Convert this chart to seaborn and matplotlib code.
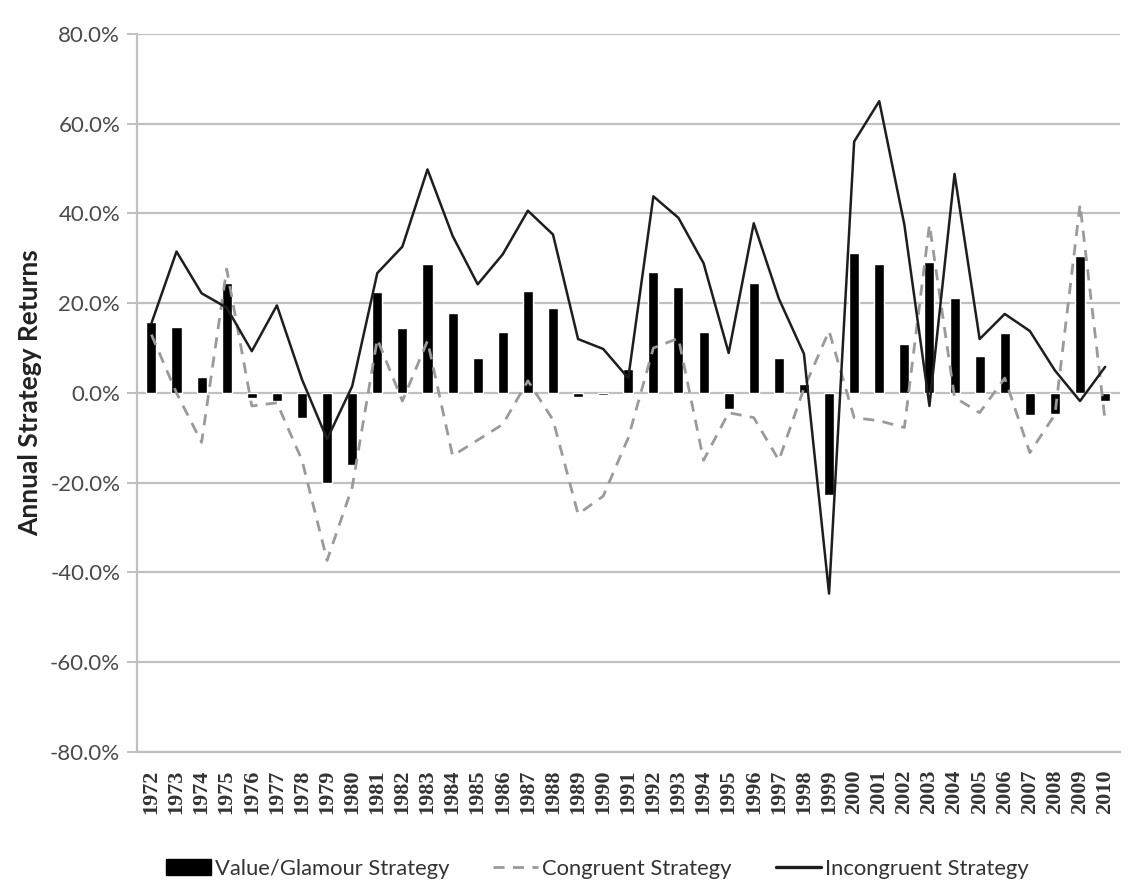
import numpy as np
import pandas as pd
import matplotlib
matplotlib.use('Agg')
import matplotlib.pyplot as plt
import seaborn as sns
from matplotlib.ticker import PercentFormatter, MultipleLocator
from matplotlib.patches import Patch
from matplotlib.lines import Line2D

# Data (annual returns, %)
years = [str(y) for y in range(1972, 2011)]
value_glamour = [15.8, 14.8, 3.6, 24.5, -1.2, -1.8, -5.5, -20.0, -16.0, 22.4,
                 14.4, 28.8, 17.8, 7.8, 13.6, 22.6, 19.0, -0.8, -0.4, 5.3,
                 27.0, 23.6, 13.6, -3.6, 24.4, 7.8, 2.0, -22.8, 31.2, 28.8,
                 11.0, 29.2, 21.2, 8.2, 13.3, -5.0, -4.7, 30.5, -1.8]
congruent = [13.0, 0.0, -11.0, 27.6, -2.9, -2.2, -15.0, -37.3, -21.0, 12.0,
             -1.8, 11.6, -14.0, -10.5, -7.0, 2.7, -6.0, -27.0, -23.0, -10.0,
             10.0, 12.2, -15.0, -4.4, -5.5, -15.0, 1.0, 13.8, -5.5, -6.2,
             -7.7, 37.5, -1.0, -4.4, 3.3, -13.3, -4.8, 42.0, -6.2]
incongruent = [15.5, 31.5, 22.2, 19.0, 9.3, 19.5, 3.0, -10.3, 1.5, 26.7,
               32.6, 49.8, 35.0, 24.2, 30.9, 40.6, 35.3, 12.0, 9.8, 3.3,
               43.8, 39.0, 28.9, 8.9, 37.8, 21.0, 8.7, -44.7, 56.0, 65.0,
               37.5, -2.9, 48.8, 12.0, 17.6, 13.8, 5.0, -1.8, 5.8]

df = pd.DataFrame({'year': years, 'vg': value_glamour,
                   'cong': congruent, 'incong': incongruent})

sns.set_style('white')
plt.rcParams['font.family'] = ['Lato', 'DejaVu Sans']
plt.rcParams['axes.unicode_minus'] = False

fig = plt.figure(figsize=(11.31, 8.91), dpi=100)
ax = fig.add_axes([0.121, 0.156, 0.869, 0.806])

grid_col = '#c0c0c0'
dash = (0, (4, 3))

# Bars
sns.barplot(data=df, x='year', y='vg', color='black', width=0.4,
            saturation=1, ax=ax, zorder=2)

# Lines
sns.pointplot(data=df, x='year', y='cong', color='#9a9a9a', marker='',
              linestyle=dash, linewidth=2, ax=ax, zorder=3)
sns.pointplot(data=df, x='year', y='incong', color='#1e1e1e', marker='',
              linestyle='-', linewidth=1.8, ax=ax, zorder=4)

ax.set_ylim(-80, 80)
ax.set_xlim(-0.58, len(years) - 0.42)
ax.yaxis.set_major_locator(MultipleLocator(20))
ax.yaxis.set_major_formatter(PercentFormatter(xmax=100, decimals=1))
ax.grid(axis='y', color=grid_col, linewidth=1.6, zorder=0)
ax.set_axisbelow(True)

for s in ['top', 'right']:
    ax.spines[s].set_visible(False)
ax.spines['left'].set_color(grid_col)
ax.spines['left'].set_linewidth(1.6)
ax.spines['bottom'].set_color(grid_col)
ax.spines['bottom'].set_linewidth(1.6)

ax.tick_params(axis='y', left=True, length=7, width=1.4, color=grid_col,
               labelsize=16, labelcolor='#4a4a4a', pad=5)
ax.tick_params(axis='x', bottom=False, labelsize=16, labelcolor='#333333', pad=9)
for lbl in ax.get_xticklabels():
    lbl.set_rotation(90)
    lbl.set_family(['Liberation Serif', 'DejaVu Serif'])
    lbl.set_fontweight('bold')

ax.set_xlabel('')
ax.set_ylabel('Annual Strategy Returns', fontsize=19, fontweight='bold',
              color='#222222', labelpad=6)

handles = [Patch(facecolor='black', edgecolor='black'),
           Line2D([], [], color='#9a9a9a', linestyle=dash, linewidth=2),
           Line2D([], [], color='#1e1e1e', linestyle='-', linewidth=2.4)]
labels = ['Value/Glamour Strategy', 'Congruent Strategy', 'Incongruent Strategy']
leg = fig.legend(handles, labels, loc='center', bbox_to_anchor=(0.528, 0.025),
                 ncol=3, frameon=False, fontsize=15.8, handlelength=2.05,
                 handletextpad=0.18, columnspacing=2.0)
for t in leg.get_texts():
    t.set_color('#333333')

fig.savefig('out.png', dpi=100)
